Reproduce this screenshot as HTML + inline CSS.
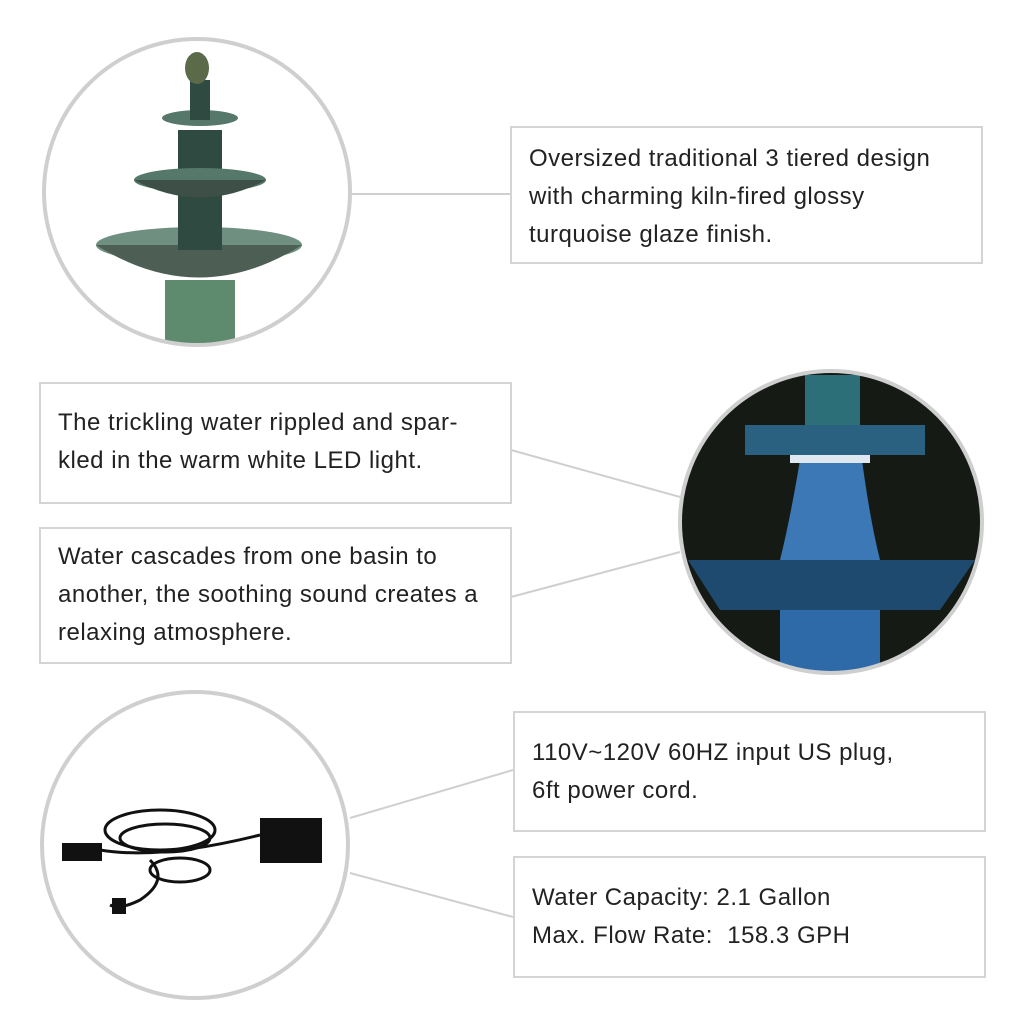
<!DOCTYPE html>
<html><head><meta charset="utf-8"><style>
body{margin:0;width:1024px;height:1023px;background:#fff;position:relative;overflow:hidden;font-family:"Liberation Sans",Arial,sans-serif;color:#222}
.box{position:absolute;border:2px solid #d4d4d4;box-sizing:border-box;font-size:24px;letter-spacing:0.5px;line-height:38px;padding-left:17px;white-space:nowrap}
svg{position:absolute;left:0;top:0}
</style></head><body>
<svg width="1024" height="1023">
<g stroke="#cfcfcf" stroke-width="2">
<line x1="350" y1="194" x2="510" y2="194"/>
<line x1="511" y1="450" x2="680" y2="497"/>
<line x1="511" y1="597" x2="680" y2="552"/>
<line x1="350" y1="818" x2="513" y2="770"/>
<line x1="350" y1="873" x2="513" y2="917"/>
</g>
<defs>
<clipPath id="c1"><circle cx="197" cy="192" r="152"/></clipPath>
<clipPath id="c2"><circle cx="831" cy="522" r="150"/></clipPath>
<clipPath id="c3"><circle cx="195" cy="845" r="152"/></clipPath>
</defs>
<g clip-path="url(#c1)">
<rect x="40" y="40" width="320" height="320" fill="#fff"/>
<rect x="165" y="280" width="70" height="80" fill="#5e8a6e"/>
<ellipse cx="199" cy="245" rx="103" ry="18" fill="#6f8f80"/>
<path d="M96 245 Q199 310 302 245 Z" fill="#4d5e55"/>
<rect x="178" y="130" width="44" height="120" fill="#2f4a40"/>
<ellipse cx="200" cy="180" rx="66" ry="12" fill="#56786a"/>
<path d="M134 180 Q200 215 266 180 Z" fill="#3d4f46"/>
<ellipse cx="200" cy="118" rx="38" ry="8" fill="#56786a"/>
<rect x="190" y="80" width="20" height="40" fill="#2f4a40"/>
<ellipse cx="197" cy="68" rx="12" ry="16" fill="#5b6b4a"/>
</g>
<circle cx="197" cy="192" r="153" fill="none" stroke="#cfcfcf" stroke-width="4"/>
<g clip-path="url(#c2)">
<rect x="670" y="360" width="330" height="330" fill="#151a15"/>
<rect x="780" y="610" width="100" height="80" fill="#2f6aa8"/>
<path d="M688 560 L975 560 L940 610 L720 610 Z" fill="#1f4a70"/>
<path d="M800 460 Q790 520 780 560 L880 560 Q870 520 862 460 Z" fill="#3b78b5"/>
<rect x="745" y="425" width="180" height="30" fill="#2a6080"/>
<rect x="805" y="375" width="55" height="50" fill="#2d6f78"/>
<rect x="790" y="455" width="80" height="8" fill="#dfe8f0"/>
</g>
<circle cx="831" cy="522" r="151" fill="none" stroke="#cfcfcf" stroke-width="4"/>
<g clip-path="url(#c3)">
<rect x="40" y="690" width="320" height="320" fill="#fff"/>
<g fill="none" stroke="#111" stroke-width="3">
<ellipse cx="160" cy="830" rx="55" ry="20"/><ellipse cx="165" cy="838" rx="45" ry="14"/>
<path d="M100 850 Q160 860 260 835"/><path d="M150 860 Q170 880 140 900 Q120 910 110 905"/>
<ellipse cx="180" cy="870" rx="30" ry="12"/>
</g>
<rect x="62" y="843" width="40" height="18" fill="#111"/>
<rect x="260" y="818" width="62" height="45" fill="#111"/>
<rect x="112" y="898" width="14" height="16" fill="#111"/>
</g>
<circle cx="195" cy="845" r="153" fill="none" stroke="#cfcfcf" stroke-width="4"/>
</svg>
<div class="box" style="left:510px;top:126px;width:473px;height:138px;padding-top:12px">Oversized traditional 3 tiered design<br>with charming kiln-fired glossy<br>turquoise glaze finish.</div>
<div class="box" style="left:39px;top:382px;width:473px;height:122px;padding-top:20px">The trickling water rippled and spar-<br>kled in the warm white LED light.</div>
<div class="box" style="left:39px;top:527px;width:473px;height:137px;padding-top:9px">Water cascades from one basin to<br>another, the soothing sound creates a<br>relaxing atmosphere.</div>
<div class="box" style="left:513px;top:711px;width:473px;height:121px;padding-top:21px">110V~120V 60HZ input US plug,<br>6ft power cord.</div>
<div class="box" style="left:513px;top:856px;width:473px;height:122px;padding-top:21px">Water Capacity: 2.1 Gallon<br>Max. Flow Rate:&nbsp; 158.3 GPH</div>
</body></html>
